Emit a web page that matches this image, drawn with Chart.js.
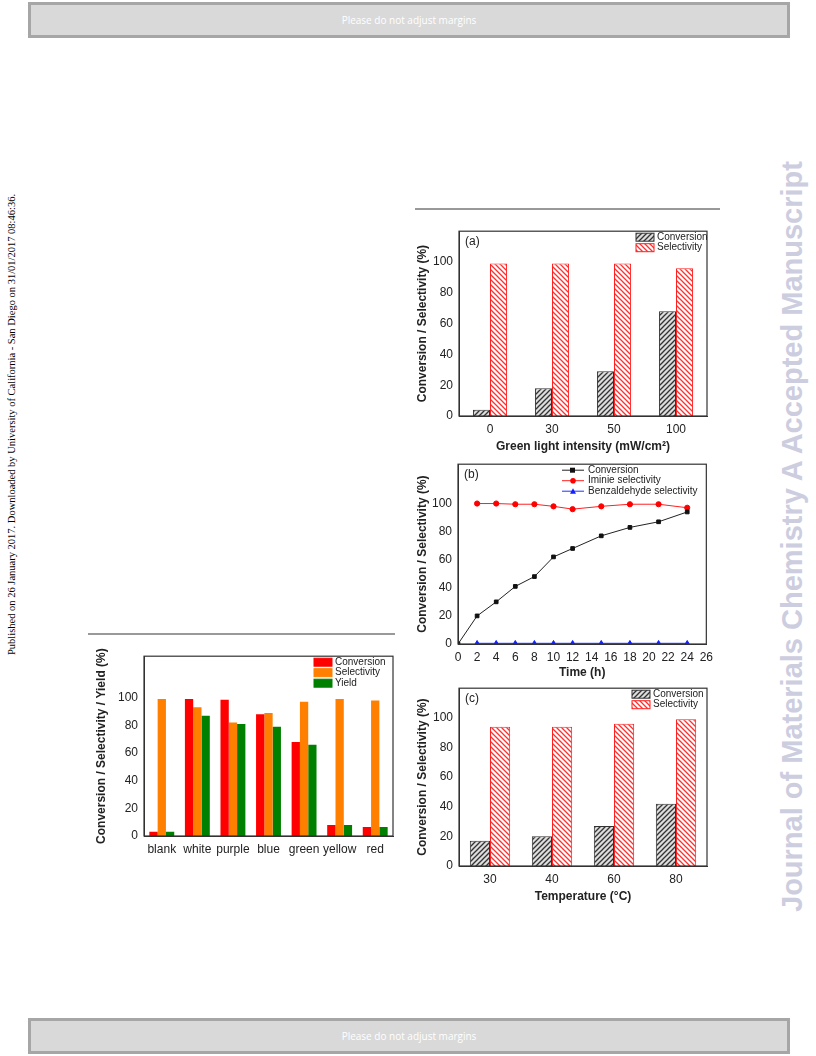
<!DOCTYPE html>
<html>
<head>
<meta charset="utf-8">
<script src="https://cdn.jsdelivr.net/npm/chart.js@4.4.0/dist/chart.umd.min.js"></script>
<style>
  body { margin: 0; width: 816px; height: 1056px; position: relative; background: #fff; font-family: "Liberation Sans", Arial, sans-serif; overflow: hidden; }
  .bar { position: absolute; left: 28px; width: 756px; height: 30px; background: #d9d9d9; border: 3px solid #a6a6a6; color: #fff; font-family: "Open Sans", sans-serif; font-size: 10px; text-align: center; line-height: 30px; }
  .rule { position: absolute; height: 0; border-top: 2px solid #999; }
  .box { position: absolute; }
  .side { position: absolute; transform: rotate(-90deg); transform-origin: left top; white-space: nowrap; }
</style>
</head>
<body>
<div class="bar" style="top:2px">Please do not adjust margins</div>
<div class="bar" style="top:1018px">Please do not adjust margins</div>
<div class="side" style="left:6px;top:655px;font-family:'Liberation Serif',serif;font-size:10.5px;color:#000">Published on 26 January 2017. Downloaded by University of California - San Diego on 31/01/2017 08:46:36.</div>
<div class="side" style="left:776px;top:912px;font-size:29px;font-weight:bold;color:#cdcde0">Journal of Materials Chemistry A Accepted Manuscript</div>
<div class="rule" style="left:415px;top:208px;width:305px"></div>
<div class="rule" style="left:88px;top:633px;width:307px"></div>

<div class="box" style="left:413px;top:222px;width:302px;height:232px"><canvas id="ca"></canvas></div>
<div class="box" style="left:413px;top:455px;width:302px;height:225px"><canvas id="cb"></canvas></div>
<div class="box" style="left:413px;top:679px;width:302px;height:225px"><canvas id="cc"></canvas></div>
<div class="box" style="left:94px;top:647px;width:303px;height:209px"><canvas id="cl"></canvas></div>

<script>
// (a) green light intensity
const intensityLabels = ["0", "30", "50", "100"];
const intensityConversion = [4, 18, 29, 68];
const intensitySelectivity = [99, 99, 99, 96];

// (b) time course
const timeHours = [0, 2, 4, 6, 8, 10, 12, 15, 18, 21, 24];
const timeConversion = [0, 20, 30, 41, 48, 62, 68, 77, 83, 87, 94];
const iminieHours = [2, 4, 6, 8, 10, 12, 15, 18, 21, 24];
const iminieSelectivity = [100, 100, 99.5, 99.5, 98, 96, 98, 99.5, 99.5, 97];
const benzSelectivity = [0.5, 0.5, 0.5, 0.5, 0.5, 0.5, 0.5, 0.5, 0.5, 0.5];

// (c) temperature
const tempLabels = ["30", "40", "60", "80"];
const tempConversion = [17, 20, 27, 42];
const tempSelectivity = [94, 94, 96, 99];

// left: light colours
const lightLabels = ["blank", "white", "purple", "blue", "green", "yellow", "red"];
const lightConversion = [3, 99, 98.5, 88, 68, 8, 6.5];
const lightSelectivity = [99, 93, 82, 89, 97, 99, 98];
const lightYield = [3, 87, 81, 79, 66, 8, 6.5];

const yTicks = [0, 20, 40, 60, 80, 100];

Chart.defaults.font.family = '"Liberation Sans", Arial, sans-serif';
Chart.defaults.color = "#222";
Chart.defaults.animation = false;

function hatch(color, bg, forward) {
  const c = document.createElement("canvas");
  c.width = 5; c.height = 5;
  const g = c.getContext("2d");
  g.fillStyle = bg; g.fillRect(0, 0, 5, 5);
  g.strokeStyle = color; g.lineWidth = 1.3;
  g.beginPath();
  if (forward) {
    g.moveTo(0, 5); g.lineTo(5, 0); g.moveTo(-2.5, 2.5); g.lineTo(2.5, -2.5); g.moveTo(2.5, 7.5); g.lineTo(7.5, 2.5);
  } else {
    g.moveTo(0, 0); g.lineTo(5, 5); g.moveTo(-2.5, 2.5); g.lineTo(2.5, 7.5); g.moveTo(2.5, -2.5); g.lineTo(7.5, 2.5);
  }
  g.stroke();
  return g.createPattern(c, "repeat");
}
const convHatch = hatch("#333", "#ddd", true);
const selHatch = hatch("#ff3030", "#fff", false);

// frame + panel label + inset legend
const framePlugin = {
  id: "frame",
  afterDraw(chart, args, opts) {
    const { ctx, chartArea: a } = chart;
    ctx.save();
    ctx.strokeStyle = "#333"; ctx.lineWidth = 1.2;
    ctx.strokeRect(a.left, a.top, a.right - a.left, a.bottom - a.top);
    ctx.fillStyle = "#222"; ctx.font = '12px "Liberation Sans"';
    ctx.textBaseline = "middle";
    if (opts.panel) ctx.fillText(opts.panel, a.left + 6, a.top + 10);
    const lx = opts.legendX;
    chart.data.datasets.forEach((ds, i) => {
      const y = a.top + 6 + i * 10.5;
      ctx.font = '10px "Liberation Sans"';
      if (chart.config.type === "line") {
        ctx.strokeStyle = ds.borderColor; ctx.lineWidth = 1;
        ctx.beginPath(); ctx.moveTo(lx, y); ctx.lineTo(lx + 22, y); ctx.stroke();
        ctx.fillStyle = ds.pointBackgroundColor;
        ctx.beginPath();
        if (ds.pointStyle === "rect") ctx.rect(lx + 8, y - 2.5, 5, 5);
        else if (ds.pointStyle === "triangle") { ctx.moveTo(lx + 11, y - 3); ctx.lineTo(lx + 14, y + 2.5); ctx.lineTo(lx + 8, y + 2.5); ctx.closePath(); }
        else ctx.arc(lx + 11, y, 2.8, 0, Math.PI * 2);
        ctx.fill();
        ctx.fillStyle = "#222"; ctx.fillText(ds.label, lx + 26, y);
      } else {
        ctx.fillStyle = ds.backgroundColor; ctx.fillRect(lx, y - 4, 18, 8);
        ctx.strokeStyle = ds.borderColor; ctx.lineWidth = 1; ctx.strokeRect(lx, y - 4, 18, 8);
        ctx.fillStyle = "#222"; ctx.fillText(ds.label, lx + 21, y);
      }
    });
    ctx.restore();
  }
};

function yAxis(title, width, max) {
  return {
    min: 0, max: max,
    afterBuildTicks: s => { s.ticks = yTicks.map(v => ({ value: v })); },
    afterFit: s => { s.width = width; },
    grid: { display: false, drawTicks: true, tickLength: 4, tickColor: "#333" },
    border: { color: "#333" },
    ticks: { font: { size: 12 }, color: "#222", padding: 2 },
    title: { display: true, text: title, font: { size: 12, weight: "bold" }, color: "#222", padding: 0 }
  };
}

function xCat(title, height) {
  return {
    afterFit: s => { s.height = height; },
    grid: { display: false, tickLength: 4, tickColor: "#333" },
    border: { color: "#333" },
    ticks: { font: { size: 12 }, color: "#222", padding: 2, maxRotation: 0, autoSkip: false },
    title: { display: !!title, text: title, font: { size: 12, weight: "bold" }, color: "#222", padding: 0 }
  };
}

function hatchBars(id, labels, conv, sel, xtitle, panel, legendX, catPct) {
  new Chart(document.getElementById(id), {
    type: "bar",
    data: {
      labels: labels,
      datasets: [
        { label: "Conversion", data: conv, backgroundColor: convHatch, borderColor: "#333", borderWidth: 1 },
        { label: "Selectivity", data: sel, backgroundColor: selHatch, borderColor: "#ff2020", borderWidth: 1 }
      ]
    },
    options: {
      responsive: true, maintainAspectRatio: false,
      layout: { padding: { top: 6, right: 8, left: 2 } },
      categoryPercentage: catPct, barPercentage: 1,
      scales: { x: xCat(xtitle, 38), y: yAxis("Conversion / Selectivity (%)", 44, 120) },
      plugins: { legend: { display: false }, tooltip: { enabled: false }, frame: { panel: panel, legendX: legendX } }
    },
    plugins: [framePlugin]
  });
}

hatchBars("ca", intensityLabels, intensityConversion, intensitySelectivity,
  "Green light intensity (mW/cm²)", "(a)", 636 - 413, 0.55);
hatchBars("cc", tempLabels, tempConversion, tempSelectivity,
  "Temperature (°C)", "(c)", 632 - 413, 0.65);

new Chart(document.getElementById("cb"), {
  type: "line",
  data: {
    datasets: [
      { label: "Conversion", data: timeHours.map((t, i) => ({ x: t, y: timeConversion[i] })),
        borderColor: "#222", pointBackgroundColor: "#111", pointBorderColor: "#111", pointStyle: "rect", pointRadius: 2.6, borderWidth: 1 },
      { label: "Iminie selectivity", data: iminieHours.map((t, i) => ({ x: t, y: iminieSelectivity[i] })),
        borderColor: "#ff2020", pointBackgroundColor: "#ff0000", pointBorderColor: "#ff0000", pointStyle: "circle", pointRadius: 2.6, borderWidth: 1 },
      { label: "Benzaldehyde selectivity", data: iminieHours.map((t, i) => ({ x: t, y: benzSelectivity[i] })),
        borderColor: "#2030ff", pointBackgroundColor: "#1020ff", pointBorderColor: "#1020ff", pointStyle: "triangle", pointRadius: 2.8, borderWidth: 1 }
    ]
  },
  options: {
    responsive: true, maintainAspectRatio: false,
    layout: { padding: { top: 6, right: 8, left: 2 } },
    scales: {
      x: Object.assign(xCat("Time (h)", 36), {
        type: "linear", min: 0, max: 26,
        ticks: { stepSize: 2, font: { size: 12 }, color: "#222", padding: 2, maxRotation: 0, minRotation: 0, autoSkip: false }
      }),
      y: yAxis("Conversion / Selectivity (%)", 43, 128)
    },
    plugins: { legend: { display: false }, tooltip: { enabled: false }, frame: { panel: "(b)", legendX: 562 - 413 } }
  },
  plugins: [framePlugin]
});

new Chart(document.getElementById("cl"), {
  type: "bar",
  data: {
    labels: lightLabels,
    datasets: [
      { label: "Conversion", data: lightConversion, backgroundColor: "#ff0000", borderColor: "#ff0000", borderWidth: 0 },
      { label: "Selectivity", data: lightSelectivity, backgroundColor: "#ff8000", borderColor: "#ff8000", borderWidth: 0 },
      { label: "Yield", data: lightYield, backgroundColor: "#008000", borderColor: "#008000", borderWidth: 0 }
    ]
  },
  options: {
    responsive: true, maintainAspectRatio: false,
    layout: { padding: { top: 6, right: 4, left: 0 } },
    categoryPercentage: 0.7, barPercentage: 1,
    scales: { x: xCat("", 20), y: yAxis("Conversion / Selectivity / Yield (%)", 50, 130) },
    plugins: { legend: { display: false }, tooltip: { enabled: false }, frame: { panel: "", legendX: 314 - 94 } }
  },
  plugins: [framePlugin]
});
</script>
</body>
</html>
